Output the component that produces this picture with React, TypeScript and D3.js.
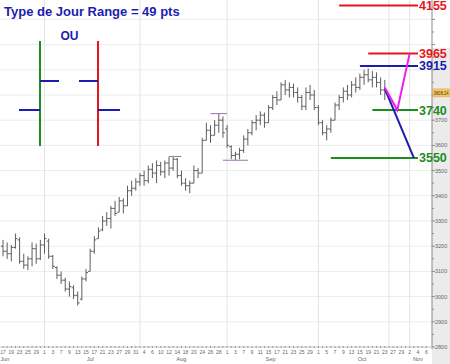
import React from "react";
import * as d3 from "d3";

// ---------- data ----------
const highs = [3225,3215,3205,3250,3235,3170,3160,3215,3210,3225,3250,3230,3165,3120,3100,3075,3060,3045,3020,3080,3110,3190,3240,3275,3320,3335,3360,3380,3395,3390,3440,3460,3470,3490,3500,3520,3530,3540,3535,3540,3555,3556,3550,3500,3470,3460,3520,3510,3630,3690,3680,3700,3726,3715,3680,3600,3575,3590,3640,3665,3700,3720,3735,3730,3760,3800,3815,3850,3860,3850,3845,3830,3800,3830,3840,3820,3760,3700,3680,3710,3770,3800,3830,3840,3855,3870,3885,3900,3905,3895,3890,3870,3860];
const lows = [3160,3150,3140,3190,3130,3110,3105,3120,3130,3145,3170,3150,3110,3070,3050,3020,3000,2990,2965,2985,3060,3100,3170,3230,3260,3280,3270,3320,3335,3330,3360,3400,3420,3440,3440,3450,3470,3450,3480,3470,3480,3500,3470,3440,3420,3410,3450,3470,3490,3620,3610,3640,3650,3630,3590,3545,3540,3545,3570,3600,3640,3660,3680,3670,3690,3740,3760,3780,3800,3790,3790,3770,3740,3740,3780,3740,3680,3640,3620,3650,3700,3740,3770,3780,3790,3810,3820,3840,3850,3830,3830,3800,3780];
const opens = [3200,3180,3170,3195,3225,3140,3125,3150,3190,3150,3205,3220,3160,3115,3085,3065,3030,3035,3005,2990,3070,3100,3180,3230,3265,3300,3310,3350,3335,3380,3360,3420,3430,3455,3480,3460,3505,3490,3520,3495,3530,3510,3545,3480,3450,3440,3450,3500,3490,3620,3660,3640,3680,3700,3665,3595,3560,3565,3580,3625,3650,3690,3700,3720,3690,3750,3790,3780,3840,3820,3830,3810,3790,3755,3810,3800,3750,3690,3650,3665,3700,3760,3790,3815,3800,3840,3830,3870,3880,3860,3870,3850,3820];
const closes = [3180,3170,3195,3230,3140,3125,3150,3190,3150,3205,3230,3160,3120,3085,3065,3030,3040,3005,2975,3070,3095,3180,3225,3260,3300,3310,3350,3330,3380,3360,3420,3430,3455,3480,3460,3505,3490,3520,3495,3530,3510,3545,3480,3450,3440,3450,3500,3490,3620,3660,3640,3680,3700,3650,3600,3560,3565,3580,3625,3650,3690,3700,3720,3690,3750,3790,3780,3840,3820,3830,3810,3790,3755,3810,3800,3750,3690,3650,3665,3700,3760,3790,3815,3800,3840,3830,3870,3880,3860,3870,3850,3820,3808];

const yTickValues = [2800,2850,2900,2950,3000,3050,3100,3150,3200,3250,3300,3350,3400,3450,3500,3550,3600,3650,3700,3750,3800,3850,3900,3950,4000,4050,4100,4150];
const yTickLabels = [2800,2900,3000,3100,3200,3300,3400,3500,3600,3700];
const gridValues = [2800,2900,3000,3100,3200,3300,3400,3500,3600,3700,3800,3900,4000,4100];
const monthNames = ["Jun","Jul","Aug","Sep","Oct","Nov"];

const levelValues = [4155, 3965, 3915, 3740, 3550];
const levelColors = ["#e8141c","#e8141c","#1c1cb0","#1e8c1e","#1e8c1e"];
const levelStart = ["2009-10-08","2009-10-19","2009-10-15","2009-10-20","2009-10-06"];
const levelEnd = "2009-11-04";

const markerValues = [3556, 3726, 3541];
const markerStart = ["2009-08-12","2009-08-26","2009-08-31"];
const markerEnd = ["2009-08-17","2009-09-01","2009-09-08"];

const magentaDates = ["2009-10-23","2009-10-28","2009-11-02"];
const magentaValues = [3830, 3740, 3965];
const blueDates = ["2009-10-23","2009-11-03"];
const blueValues = [3825, 3550];

const lastPrice = "3808.24";
const extraGridDate = "2009-10-26";

// ---------- helpers ----------
const tradingDays: Date[] = d3
  .timeDay.range(new Date(2009, 5, 17), new Date(2009, 10, 7))
  .filter((d) => d.getDay() !== 0 && d.getDay() !== 6);
const fmt = d3.timeFormat("%Y-%m-%d");
const dayIndex = new Map(tradingDays.map((d, i) => [fmt(d), i]));
const idx = (s: string) => dayIndex.get(s) as number;

export default function App() {
  const W = 450, H = 364;
  const axisX = 432;
  const x = d3.scaleLinear().domain([0, tradingDays.length - 1]).range([3, 3 + (tradingDays.length - 1) * 4.15]);
  const y = d3.scaleLinear().domain([2800, 4155]).range([347, 5.5]);
  const barColor = "#5e5e5e";

  const months = d3.groups(tradingDays.map((d, i) => ({ d, i })), (o) => o.d.getMonth());
  const monthStarts = months.slice(1).map(([, arr]) => arr[0].i);
  const monthLabels = months.map(([m, arr]) => {
    const first = arr[0].i;
    const last = arr[arr.length - 1].i;
    const partial = m === 5; // June begins before the visible range
    return { name: monthNames[m - 5], cx: partial ? 0.5 : (x(first) + x(last)) / 2, anchor: partial ? "start" : "middle" };
  });

  const line = d3.line<[number, number]>().x((p) => p[0]).y((p) => p[1]);
  const magentaPts: [number, number][] = magentaDates.map((d, i) => [x(idx(d)), y(magentaValues[i])]);
  const bluePts: [number, number][] = blueDates.map((d, i) => [x(idx(d)), y(blueValues[i])]);

  const blue = "#1c1cb0";
  const font = "Liberation Sans, Arial, sans-serif";

  return (
    <svg width={W} height={H} style={{ position: "absolute", left: 0, top: 0, background: "#fff" }} fontFamily={font}>
      <rect x={0} y={0} width={W} height={H} fill="#fff" />
      <rect x={axisX} y={48} width={W - axisX} height={H - 48} fill="#ebebeb" />
      {gridValues.map((v) => (
        <line key={"g" + v} x1={0} x2={axisX} y1={y(v)} y2={y(v)} stroke="#ececec" strokeWidth={1} />
      ))}
      {[...monthStarts, idx(extraGridDate)].map((i) => (
        <line key={"v" + i} x1={x(i)} x2={x(i)} y1={0} y2={347} stroke="#e4e4e4" strokeWidth={1} />
      ))}
      <line x1={axisX} x2={axisX} y1={0} y2={349} stroke="#8a8a8a" strokeWidth={1} />
      {yTickValues.map((v) => (
        <line key={"t" + v} x1={axisX} x2={axisX + (v % 100 === 0 ? 3 : 2)} y1={y(v)} y2={y(v)} stroke="#8a8a8a" />
      ))}
      {yTickLabels.map((v) => (
        <text key={"l" + v} x={axisX + 3} y={y(v) + 2} fontSize={5.5} fill="#666">{v}</text>
      ))}
      <rect x={axisX + 1} y={y(+lastPrice) - 4} width={16.5} height={8} fill="#f2c96a" stroke="#d9a640" strokeWidth={0.5} />
      <text x={axisX + 1.8} y={y(+lastPrice) + 1.8} fontSize={4.6} fill="#553300" textLength={14.8} lengthAdjust="spacingAndGlyphs">{lastPrice}</text>

      <line x1={0} x2={axisX} y1={347} y2={347} stroke="#cfcfcf" />
      {tradingDays.map((d, i) => (
        <line key={"xt" + i} x1={x(i)} x2={x(i)} y1={346} y2={348} stroke="#9a9a9a" />
      ))}
      {tradingDays.map((d, i) =>
        i % 2 === 0 ? (
          <text key={"xl" + i} x={x(i)} y={354} fontSize={5} fill="#666" textAnchor="middle">{d.getDate()}</text>
        ) : null
      )}
      {monthLabels.map((m) => (
        <text key={m.name} x={m.cx} y={361} fontSize={5.5} fill="#666" textAnchor={m.anchor}>{m.name}</text>
      ))}

      {highs.map((h, i) => (
        <g key={"b" + i} stroke={barColor} strokeWidth={1}>
          <line x1={x(i)} x2={x(i)} y1={y(h)} y2={y(lows[i])} />
          <line x1={x(i) - 2} x2={x(i)} y1={y(opens[i])} y2={y(opens[i])} />
          <line x1={x(i)} x2={x(i) + 2} y1={y(closes[i])} y2={y(closes[i])} />
        </g>
      ))}

      {markerValues.map((v, i) => (
        <line key={"m" + i} x1={x(idx(markerStart[i]))} x2={x(idx(markerEnd[i]))} y1={y(v)} y2={y(v)} stroke="#9b72b0" strokeWidth={1} />
      ))}

      {levelValues.map((v, i) => (
        <g key={"lv" + v}>
          <line x1={x(idx(levelStart[i]))} x2={x(idx(levelEnd))} y1={y(v)} y2={y(v)} stroke={levelColors[i]} strokeWidth={2} />
          <text x={419} y={y(v) + 4.5} fontSize={12.5} fontWeight="bold" fill={levelColors[i]}>{v}</text>
        </g>
      ))}
      <path d={line(bluePts) || ""} stroke={blue} strokeWidth={2} fill="none" />
      <path d={line(magentaPts) || ""} stroke="#f01cf0" strokeWidth={2} fill="none" />

      <text x={4} y={16} fontSize={13} fontWeight="bold" fill={blue}>Type de Jour Range = 49 pts</text>
      <text x={69.5} y={40} fontSize={12} fontWeight="bold" fill={blue} textAnchor="middle">OU</text>
      <line x1={40} x2={40} y1={41} y2={146} stroke="#1e8c1e" strokeWidth={2} />
      <line x1={40} x2={59} y1={81} y2={81} stroke={blue} strokeWidth={2} />
      <line x1={19} x2={40} y1={110} y2={110} stroke={blue} strokeWidth={2} />
      <line x1={98} x2={98} y1={41} y2={146} stroke="#e8141c" strokeWidth={2} />
      <line x1={79} x2={98} y1={81} y2={81} stroke={blue} strokeWidth={2} />
      <line x1={98} x2={120} y1={110} y2={110} stroke={blue} strokeWidth={2} />
    </svg>
  );
}
